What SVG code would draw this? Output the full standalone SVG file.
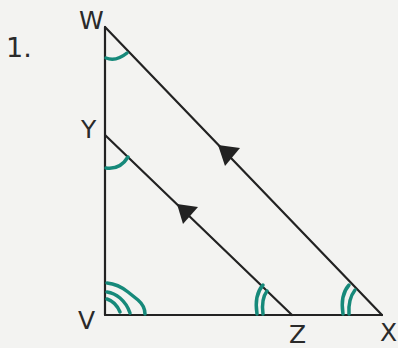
<svg xmlns="http://www.w3.org/2000/svg" width="398" height="348" viewBox="0 0 398 348">
<style>
.ln{stroke:#222;stroke-width:2.2;fill:none;stroke-linecap:round}
.mk{stroke:#16897a;stroke-width:3.5;fill:none;stroke-linecap:round}
.lb{font-family:"DejaVu Sans","Liberation Sans",sans-serif;font-size:25px;fill:#2a2a2a}
.ah{fill:#222}
</style>
<rect width="398" height="348" fill="#f3f3f1"/>
<text class="lb" x="6" y="57" style="font-size:27px">1.</text>
<g id="connectors">
<line class="ln" x1="105" y1="27" x2="105" y2="315"/>
<line class="ln" x1="105" y1="315" x2="382" y2="315"/>
<line class="ln" x1="105" y1="27" x2="382" y2="315"/>
<line class="ln" x1="105" y1="135" x2="292" y2="315"/>
<polygon class="ah" points="218,145 240,148 225,166"/>
<polygon class="ah" points="177,204 198,207 183,224"/>
</g>
<g id="W"><text class="lb" x="79" y="29">W</text>
<path class="mk" d="M106,58 Q116,62 127,53"/></g>
<g id="Y"><text class="lb" x="81" y="138">Y</text>
<path class="mk" d="M106,168 Q120,170 128,157"/></g>
<g id="V"><text class="lb" x="78" y="329">V</text>
<path class="mk" d="M107,283 Q118,284 128,292 L138,300 Q145,306 145,314"/>
<path class="mk" d="M107,292 Q114,293 120,298 Q127,304 130,313"/>
<path class="mk" d="M107,299 Q116,302 120,312"/></g>
<g id="Z"><text class="lb" x="289" y="343">Z</text>
<path class="mk" d="M257,314 Q254,295 263,285"/>
<path class="mk" d="M263,314 Q261,299 267,291"/></g>
<g id="X"><text class="lb" x="380" y="341">X</text>
<path class="mk" d="M343,314 Q340,295 349,285"/>
<path class="mk" d="M349,314 Q348,299 355,290"/></g>
</svg>
